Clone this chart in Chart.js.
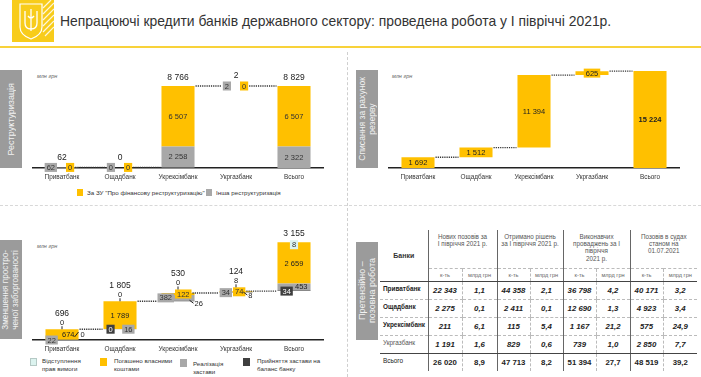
<!DOCTYPE html>
<html><head><meta charset="utf-8">
<script src="https://cdn.jsdelivr.net/npm/chart.js@4.4.1/dist/chart.umd.min.js"></script>
<style>
html,body{margin:0;padding:0;background:#fff;}
body{width:701px;height:377px;position:relative;overflow:hidden;font-family:'Liberation Sans',Arial,sans-serif;color:#333;}
.abs{position:absolute;}
.title{left:60px;top:13px;font-size:13.9px;line-height:17px;color:#333;white-space:nowrap;}
.side{position:absolute;background:#9b9b9b;color:#f2f2f2;font-size:8.6px;line-height:10px;display:flex;align-items:center;justify-content:center;text-align:center;overflow:hidden;}
.side span{writing-mode:vertical-rl;transform:rotate(180deg);white-space:nowrap;}
.unit{position:absolute;font-size:5.5px;font-style:italic;color:#666;}
.lgsq{position:absolute;width:6px;height:7px;}
.lgtx{position:absolute;font-size:6.2px;line-height:7.5px;color:#333;white-space:pre;}
canvas{position:absolute;}
#claims{position:absolute;left:380px;top:230px;border-collapse:collapse;table-layout:fixed;width:317px;font-size:7px;color:#333;}
#claims td,#claims th{padding:0;overflow:hidden;white-space:nowrap;}
#claims th.grp{font-weight:normal;color:#555;font-size:6.3px;line-height:7.2px;vertical-align:top;padding-top:3px;height:35px;border-left:1px solid #666;border-bottom:1px dashed #bbb;white-space:pre;}
#claims th.bank{font-weight:bold;font-size:7px;text-align:center;border-bottom:1px solid #444;}
#claims tr.sub td{height:12px;line-height:12px;text-align:center;color:#666;font-size:5.6px;border-bottom:1px solid #444;}
#claims td.lab{text-align:left;padding-left:3px;vertical-align:top;padding-top:3px;font-size:6.4px;line-height:8px;height:14px;}
#claims td.val{text-align:center;font-size:7.8px;line-height:9px;font-weight:bold;font-style:italic;color:#222;vertical-align:middle;height:17px;}
#claims tr.row td{border-bottom:1px dashed #bbb;}
#claims tr.last td{border-bottom:1px solid #444;}
#claims tr.tot td.val{font-style:normal;}
#claims tr.tot td{border-bottom:none;}
#claims .g1{border-left:1px solid #666;}
#claims .g2{border-left:1px dashed #bbb;}
</style></head><body>

<svg class="abs" style="left:12px;top:0px" width="42" height="42">
  <rect width="42" height="42" fill="#F8CC1B"/>
  <g stroke="#fff" stroke-width="1.2" opacity="0.85">
    <line x1="31" y1="8" x2="39" y2="0"/><line x1="31" y1="14" x2="42" y2="3"/>
    <line x1="31" y1="20" x2="42" y2="9"/><line x1="31" y1="26" x2="42" y2="15"/>
    <line x1="31" y1="32" x2="42" y2="21"/><line x1="33" y1="36" x2="42" y2="27"/>
  </g>
  <path d="M8 4 H30 V27 Q30 35 19 39 Q8 35 8 27 Z" fill="#F8CC1B" stroke="#fff" stroke-width="1.2"/>
  <path d="M19 9 V31 M13 11 V23 Q13 29 19 29 Q25 29 25 23 V11 M16 16 Q19 20 22 16" stroke="#fff" stroke-width="1.3" fill="none"/>
</svg>
<div class="abs title">Непрацюючі кредити банків державного сектору: проведена робота у І півріччі 2021р.</div>
<div class="abs" style="left:0;top:46px;width:701px;height:2px;background:#F8D23A"></div>
<div class="abs" style="left:347px;top:52px;width:0;height:325px;border-left:1px dashed #cfcfcf"></div>
<div class="abs" style="left:0;top:205px;width:701px;height:0;border-top:1px dashed #d8d8d8"></div>

<div class="side" style="left:0;top:70px;width:22px;height:98px;font-size:9px"><span>Реструктуризація</span></div>
<div class="side" style="left:356px;top:70px;width:22px;height:98px"><span>Списання за рахунок<br>резерву</span></div>
<div class="side" style="left:0;top:240px;width:22px;height:99px;font-size:8.2px"><span>Зменшення простро-<br>ченої заборгованості</span></div>
<div class="side" style="left:356px;top:242px;width:22px;height:98px;font-size:9px"><span>Претензійно –<br>позовна робота</span></div>

<div class="unit" style="left:37px;top:73px">млн грн</div>
<div class="unit" style="left:392px;top:73px">млн грн</div>
<div class="unit" style="left:37px;top:243px">млн грн</div>

<canvas id="c1" width="347" height="125" style="left:3px;top:60px"></canvas>
<canvas id="c2" width="349" height="125" style="left:352px;top:60px"></canvas>
<canvas id="c3" width="347" height="142" style="left:3px;top:215px"></canvas>
<div id="legends"></div>
<table id="claims"></table>

<script>
// ---------- DATA ----------
const banks = ['Приватбанк', 'Ощадбанк', 'Укрексімбанк', 'Укргазбанк', 'Всього'];

// Реструктуризація, млн грн
const restrSeriesNames = ['За ЗУ "Про фінансову реструктуризацію"', 'Інша реструктуризація'];
const restrLaw   = [0, 0, 6507, 0, 6507];
const restrOther = [62, 0, 2258, 2, 2322];
const restrTotals = [62, 0, 8766, 2, 8829];

// Списання за рахунок резерву, млн грн
const writeOff = [1692, 1512, 11394, 625, 15224];

// Зменшення простроченої заборгованості, млн грн
const debtSeriesNames = ['Відступлення\nправ вимоги', 'Погашено власними\nкоштами', 'Реалізація\nзастави', 'Прийняття застави на\nбаланс банку'];
const debtAssign   = [0, 0, 0, 8, 8];
const debtOwnFunds = [674, 1789, 122, 74, 2659];
const debtCollSale = [22, 16, 382, 34, 453];
const debtCollTake = [0, 0, 26, 8, 34];
const debtTotals   = [696, 1805, 530, 124, 3155];

// Претензійно-позовна робота
const claimGroups = ['Нових позовів за\nІ півріччя 2021 р.', 'Отримано рішень\nза І півріччя 2021 р.', 'Виконавчих\nпроваджень за І\nпівріччя\n2021 р.', 'Позовів в судах\nстаном на\n01.07.2021'];
const claimSubCols = ['к-ть', 'млрд грн'];
const newClaimsCount    = ['22 343', '2 275', '211', '1 191', '26 020'];
const newClaimsAmount   = ['1,1', '0,1', '6,1', '1,6', '8,9'];
const decisionsCount    = ['44 358', '2 411', '115', '829', '47 713'];
const decisionsAmount   = ['2,1', '0,1', '5,4', '0,6', '8,2'];
const enforcementCount  = ['36 798', '12 690', '1 167', '739', '51 394'];
const enforcementAmount = ['4,2', '1,3', '21,2', '1,0', '27,7'];
const courtCount        = ['40 171', '4 923', '575', '2 850', '48 519'];
const courtAmount       = ['3,2', '3,4', '24,9', '7,7', '39,2'];

// ---------- HELPERS ----------
const FONT = "'Liberation Sans', Arial, Helvetica, sans-serif";
const YELLOW = '#FFC000', GRAY = '#A8A8A8', DARK = '#3F3F3F', MINT = '#DCF3EF';

function fmt(v) { return String(v).replace(/\B(?=(\d{3})+(?!\d))/g, ' '); }
function setFont(ctx, size, bold) { ctx.font = (bold ? 'bold ' : '') + size + 'px ' + FONT; }
function drawText(ctx, s, x, y, align, color, size, bold) {
  setFont(ctx, size || 7.5, bold); ctx.fillStyle = color || '#333';
  ctx.textAlign = align || 'center'; ctx.textBaseline = 'middle'; ctx.fillText(s, x, y);
}
function drawBox(ctx, s, x, y, anchor, fill, color) {
  setFont(ctx, 7.5, false);
  const w = ctx.measureText(s).width + 4, h = 9;
  const l = anchor === 'left' ? x : anchor === 'right' ? x - w : x - w / 2;
  ctx.fillStyle = fill; ctx.fillRect(l, y - h / 2, w, h);
  drawText(ctx, s, l + w / 2, y + 0.5, 'center', color || '#333', 7.5);
  return { l: l, r: l + w, t: y - h / 2, b: y + h / 2 };
}
function dotted(ctx, x1, x2, y) {
  if (x2 <= x1) return;
  ctx.save(); ctx.strokeStyle = '#333'; ctx.lineWidth = 1.4; ctx.setLineDash([1.2, 1]);
  ctx.beginPath(); ctx.moveTo(x1, y); ctx.lineTo(x2, y); ctx.stroke(); ctx.restore();
}
function seg(ctx, x1, y1, x2, y2) {
  ctx.save(); ctx.strokeStyle = '#222'; ctx.lineWidth = 1;
  ctx.beginPath(); ctx.moveTo(x1, y1); ctx.lineTo(x2, y2); ctx.stroke(); ctx.restore();
}
function bases(sums, lastFromZero) {
  const b = []; let acc = 0;
  sums.forEach((t, i) => { b.push(i === sums.length - 1 && lastFromZero ? 0 : acc); acc += t; });
  return b;
}
function floating(base, parts, k) {
  return base.map((b, i) => {
    let s = b; for (let j = 0; j < k; j++) s += parts[j][i];
    return [s, s + parts[k][i]];
  });
}
function ds(data, color, extra) {
  return Object.assign({ data: data, backgroundColor: color, borderWidth: 0, grouped: false,
    barPercentage: 0.57, categoryPercentage: 1 }, extra || {});
}
function makeChart(id, datasets, yMax, pad, plugin) {
  return new Chart(document.getElementById(id), {
    type: 'bar',
    data: { labels: banks, datasets: datasets },
    options: {
      responsive: false, animation: false, devicePixelRatio: 1,
      layout: { padding: pad },
      plugins: { legend: { display: false }, tooltip: { enabled: false } },
      scales: {
        x: { offset: true, grid: { display: false, drawTicks: false },
             border: { display: true, color: '#222', width: 1.5 },
             ticks: { color: '#333', font: { family: FONT, size: 6.4 }, padding: 5, maxRotation: 0, autoSkip: false },
             afterFit(s) { s.height = 17; } },
        y: { display: false, min: 0, max: yMax }
      }
    },
    plugins: [plugin]
  });
}

// ---------- CHART 1: Реструктуризація ----------
const restrSums = restrOther.map((v, i) => v + restrLaw[i]);
const restrBase = bases(restrSums, true);
const restrParts = [restrOther, restrLaw];
const restrPlugin = {
  id: 'restrLabels',
  afterDatasetsDraw(chart) {
    const ctx = chart.ctx, ys = chart.scales.y, cols = [];
    banks.forEach((_, i) => {
      const el = chart.getDatasetMeta(0).data[i];
      const cx = el.x, w = el.width, b = restrBase[i];
      const yB = ys.getPixelForValue(b), yO = ys.getPixelForValue(b + restrOther[i]);
      const yT = ys.getPixelForValue(b + restrSums[i]);
      let left, right;
      if (yB - yT > 15) {
        drawText(ctx, fmt(restrOther[i]), cx, (yB + yO) / 2 + 0.5, 'center', '#333', 7.5);
        drawText(ctx, fmt(restrLaw[i]), cx, (yO + yT) / 2 + 0.5, 'center', '#333', 7.5);
        drawText(ctx, fmt(restrTotals[i]), cx, yT - 8, 'center', '#222', 8.5);
        left = cx - w / 2; right = cx + w / 2;
      } else {
        const g = drawBox(ctx, fmt(restrOther[i]), cx - 5, yT, 'right', GRAY);
        const y = drawBox(ctx, fmt(restrLaw[i]), cx + 4, yT, 'left', YELLOW);
        drawText(ctx, fmt(restrTotals[i]), cx, yT - 10, 'center', '#222', 8.5);
        left = g.l; right = y.r;
      }
      cols.push({ left: left, right: right, y: yT });
    });
    for (let i = 0; i < cols.length - 1; i++) dotted(ctx, cols[i].right + 1, cols[i + 1].left - 1, cols[i].y);
  }
};
makeChart('c1', [
  ds(floating(restrBase, restrParts, 0), GRAY),
  ds(floating(restrBase, restrParts, 1), YELLOW)
], 10550, { left: 30, right: 27, top: 10, bottom: 0 }, restrPlugin);

// ---------- CHART 2: Списання ----------
const woBase = bases(writeOff, true);
const woPlugin = {
  id: 'woLabels',
  afterDatasetsDraw(chart) {
    const ctx = chart.ctx, ys = chart.scales.y, cols = [];
    banks.forEach((_, i) => {
      const el = chart.getDatasetMeta(0).data[i];
      const cx = el.x, w = el.width;
      const yB = ys.getPixelForValue(woBase[i]), yT = ys.getPixelForValue(woBase[i] + writeOff[i]);
      const last = i === banks.length - 1;
      if (yB - yT >= 9) {
        drawText(ctx, fmt(writeOff[i]), cx, (yB + yT) / 2 + 0.5, 'center', '#222', 7.5, last);
      } else {
        drawBox(ctx, fmt(writeOff[i]), cx, (yB + yT) / 2, 'center', YELLOW, '#222');
      }
      cols.push({ left: cx - w / 2, right: cx + w / 2, y: yT });
    });
    for (let i = 0; i < cols.length - 1; i++) dotted(ctx, cols[i].right + 1, cols[i + 1].left - 1, cols[i].y);
  }
};
makeChart('c2', [
  ds(writeOff.map((v, i) => [woBase[i], woBase[i] + v]), YELLOW)
], 15400, { left: 37, right: 22, top: 10, bottom: 0 }, woPlugin);

// ---------- CHART 3: Зменшення простроченої заборгованості ----------
const debtSums = debtCollTake.map((v, i) => v + debtCollSale[i] + debtOwnFunds[i] + debtAssign[i]);
const debtBase = bases(debtSums, false);
const debtParts = [debtCollTake, debtCollSale, debtOwnFunds, debtAssign];
const debtPlugin = {
  id: 'debtLabels',
  afterDatasetsDraw(chart) {
    const ctx = chart.ctx, ys = chart.scales.y, cols = [];
    const p = v => ys.getPixelForValue(v);
    banks.forEach((_, i) => {
      const el = chart.getDatasetMeta(0).data[i];
      const cx = el.x, w = el.width, L = cx - w / 2, R = cx + w / 2;
      const v0 = debtBase[i], v1 = v0 + debtCollTake[i], v2 = v1 + debtCollSale[i],
            v3 = v2 + debtOwnFunds[i], v4 = v3 + debtAssign[i];
      const yB = p(v0), yT = p(v4), h = yB - yT;
      let left = L, right = R, topExt = yT, cyanDone = false;
      if (h >= 20) {
        drawText(ctx, fmt(debtOwnFunds[i]), cx, (p(v2) + p(v3)) / 2 + 0.5, 'center', '#222', 7.5);
        drawBox(ctx, fmt(debtCollTake[i]), L + 3, yB, 'left', DARK, '#fff');
        if (p(v1) - p(v2) >= 6) drawText(ctx, fmt(debtCollSale[i]), R - 3, (p(v1) + p(v2)) / 2, 'right', '#222', 7.5);
        else drawBox(ctx, fmt(debtCollSale[i]), R - 2, yB, 'right', GRAY);
        if (debtAssign[i] > 0) { drawBox(ctx, fmt(debtAssign[i]), cx, yT + 2.5, 'center', MINT); cyanDone = true; }
      } else if (h >= 10) {
        drawText(ctx, fmt(debtOwnFunds[i]), R - 4, (p(v2) + p(v3)) / 2 + 1, 'right', '#222', 7.5);
        drawBox(ctx, fmt(debtCollSale[i]), L, yB, 'left', GRAY);
        seg(ctx, R - 4, yB - 3, R, yB - 8);
        drawText(ctx, fmt(debtCollTake[i]), R + 2, yB - 5.5, 'left', '#222', 7.5);
      } else {
        const g = drawBox(ctx, fmt(debtCollSale[i]), cx - 4, (p(v1) + p(v2)) / 2, 'right', GRAY);
        const y = drawBox(ctx, fmt(debtOwnFunds[i]), cx - 3, (p(v2) + p(v3)) / 2, 'left', YELLOW);
        seg(ctx, y.r - 2, yB - 1, y.r + 2, yB + 2);
        drawText(ctx, fmt(debtCollTake[i]), y.r + 3, yB + 2.5, 'left', '#222', 7.5);
        left = g.l; right = y.r; topExt = Math.min(g.t, y.t);
      }
      if (cyanDone) {
        drawText(ctx, fmt(debtTotals[i]), cx, yT - 9, 'center', '#222', 8.5);
      } else {
        seg(ctx, cx, topExt, cx, topExt - 3);
        drawText(ctx, fmt(debtAssign[i]), cx, topExt - 6.5, 'center', '#222', 7.5);
        drawText(ctx, fmt(debtTotals[i]), cx, topExt - 15.5, 'center', '#222', 8.5);
      }
      cols.push({ left: left, right: right, y: yT });
    });
    for (let i = 0; i < cols.length - 1; i++) dotted(ctx, cols[i].right + 1, cols[i + 1].left - 1, cols[i].y);
  }
};
makeChart('c3', [
  ds(floating(debtBase, debtParts, 0), DARK),
  ds(floating(debtBase, debtParts, 1), GRAY),
  ds(floating(debtBase, debtParts, 2), YELLOW),
  ds(floating(debtBase, debtParts, 3), MINT)
], 7226, { left: 30, right: 27, top: 13, bottom: 0 }, debtPlugin);

// ---------- LEGENDS ----------
(function () {
  const box = document.getElementById('legends');
  const items = [
    { c: YELLOW, sq: [77, 189], tx: [87, 188.5], t: restrSeriesNames[0] },
    { c: GRAY, sq: [206, 189], tx: [216, 188.5], t: restrSeriesNames[1] },
    { c: MINT, sq: [30, 358], tx: [42, 357], t: debtSeriesNames[0], b: true },
    { c: YELLOW, sq: [100, 358], tx: [114, 357], t: debtSeriesNames[1] },
    { c: GRAY, sq: [180, 359], tx: [193, 360], t: debtSeriesNames[2] },
    { c: DARK, sq: [243, 358], tx: [257, 357], t: debtSeriesNames[3] }
  ];
  let html = '';
  items.forEach(it => {
    const big = it.sq[1] > 300;
    html += '<div class="lgsq" style="left:' + it.sq[0] + 'px;top:' + it.sq[1] + 'px;background:' + it.c +
      ';' + (big ? 'width:7px;height:8px;' : '') + (it.b ? 'box-sizing:border-box;border:1px solid #b5c9c5;' : '') + '"></div>';
    html += '<div class="lgtx" style="left:' + it.tx[0] + 'px;top:' + it.tx[1] + 'px">' + it.t + '</div>';
  });
  box.innerHTML = html;
})();

// ---------- TABLE ----------
(function () {
  const widths = [48, 34, 35, 33, 33, 33, 34, 33, 34];
  const cols = [newClaimsCount, newClaimsAmount, decisionsCount, decisionsAmount,
                enforcementCount, enforcementAmount, courtCount, courtAmount];
  let h = '<colgroup>' + widths.map(w => '<col style="width:' + w + 'px">').join('') + '</colgroup>';
  h += '<tr><th rowspan="2" class="bank">Банки</th>' +
       claimGroups.map(g => '<th colspan="2" class="grp">' + g + '</th>').join('') + '</tr>';
  h += '<tr class="sub">' + claimGroups.map(() =>
       '<td class="g1">' + claimSubCols[0] + '</td><td class="g2">' + claimSubCols[1] + '</td>').join('') + '</tr>';
  banks.forEach((b, r) => {
    const isTot = r === banks.length - 1;
    const cls = isTot ? 'row tot' : (r === banks.length - 2 ? 'row last' : 'row');
    const labStyle = r < 3 ? 'font-weight:bold;color:#222' : (isTot ? 'color:#222' : 'color:#555');
    h += '<tr class="' + cls + '"><td class="lab" style="' + labStyle + '">' + b + '</td>' +
         cols.map((c, k) => '<td class="val ' + (k % 2 === 0 ? 'g1' : 'g2') + '">' + c[r] + '</td>').join('') + '</tr>';
  });
  document.getElementById('claims').innerHTML = h;
})();
</script>
</body></html>
